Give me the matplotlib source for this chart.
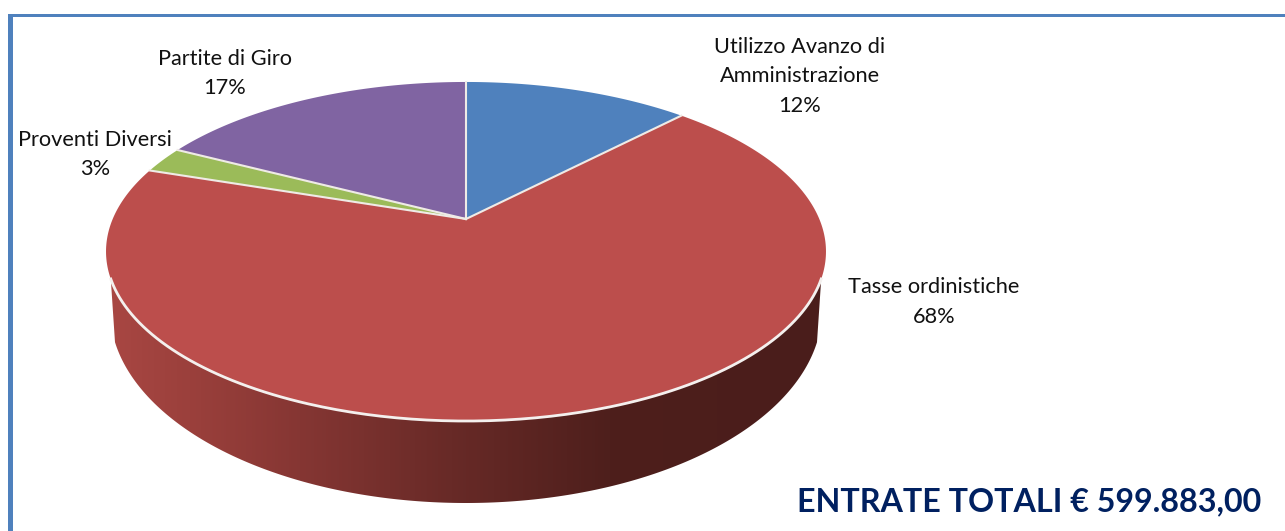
import numpy as np
import matplotlib
matplotlib.use('Agg')
import matplotlib.pyplot as plt
from matplotlib.colors import LinearSegmentedColormap
from matplotlib.patches import Polygon, Rectangle

# data
names = ['Utilizzo Avanzo di\nAmministrazione', 'Tasse ordinistiche', 'Proventi Diversi', 'Partite di Giro']
values = [12.2, 67.9, 2.5, 17.4]
pct_labels = ['12%', '68%', '3%', '17%']
colors = ['#4F81BD', '#BC4E4C', '#9BBB59', '#8064A2']
label_pos = [(800, 76.5), (934, 302), (95, 154.5), (225, 73.5)]
total_text = 'ENTRATE TOTALI € 599.883,00'

plt.rcParams['font.family'] = ['Lato', 'DejaVu Sans']

fig = plt.figure(figsize=(12.85, 5.31), dpi=100)
ax = fig.add_axes([0, 0, 1, 1])
ax.set_xlim(0, 1285)
ax.set_ylim(531, 0)
ax.axis('off')

# perspective of the pie top, pixel units
cx, cy = 466, 219
a, b, c = 353.3, 163.3, 0.1917

def top_rim(t):
    # t is clockwise angle from 12 o'clock
    px, py = np.sin(t), np.cos(t)
    w = 1 + c * py
    return cx + a * px / w, cy - b * py / w

# side wall
t_wall = np.radians(np.linspace(78, 282, 300))
tx, ty = top_rim(t_wall)
keep = ty >= 278
tx, ty = tx[keep], ty[keep]
lim = np.arcsin(351 / 356)
bot_t = np.linspace(-lim, lim, 200)
bx = 466 + 356 * np.sin(bot_t)
by = 310 + 193 * np.cos(bot_t)
wall = np.vstack([np.column_stack([tx, ty]), np.column_stack([bx, by])])
wall_patch = Polygon(wall, closed=True, fc='none', ec='none')
ax.add_patch(wall_patch)

stops = [(0, '#A94743'), (0.13, '#993F3B'), (0.27, '#853633'), (0.48, '#682A27'), (0.7, '#4E1F1C'), (1, '#4A1D1B')]
cmap = LinearSegmentedColormap.from_list('wall', stops)
grad = np.linspace(0, 1, 512).reshape(1, -1)
im = ax.imshow(grad, cmap=cmap, extent=(106, 826, 510, 260), aspect='auto', zorder=1)
im.set_clip_path(wall_patch)
ax.set_xlim(0, 1285)
ax.set_ylim(531, 0)

# pie top
edges = np.cumsum([0] + values) / sum(values) * 2 * np.pi
for i in range(len(values)):
    t = np.linspace(edges[i], edges[i + 1], 300)
    x, y = top_rim(t)
    pts = np.vstack([[cx, cy], np.column_stack([x, y])])
    ax.add_patch(Polygon(pts, closed=True, fc=colors[i], ec='none', zorder=3))
for e in edges[:-1]:
    x, y = top_rim(e)
    ax.plot([cx, x], [cy, y], color='#EFEBE6', lw=1.5, zorder=4)

# white rim over the wall
ax.plot(tx, ty, color='#F4F0EE', lw=2, zorder=4)

# labels
for i in range(len(names)):
    ax.text(label_pos[i][0], label_pos[i][1], names[i] + '\n' + pct_labels[i], ha='center', va='center',
            fontsize=15.7, color='#111111', linespacing=1.57, zorder=5)

ax.text(1029.5, 502, total_text, ha='center', va='center', fontsize=23.2, fontweight='bold', color='#002060', zorder=5)

# frame, only top and left
ax.add_patch(Rectangle((8, 14), 1277, 2.7, fc='#4F81BD', ec='none', zorder=6))
ax.add_patch(Rectangle((8, 14), 5, 517, fc='#4F81BD', ec='none', zorder=6))

fig.savefig('out.png', dpi=100)
